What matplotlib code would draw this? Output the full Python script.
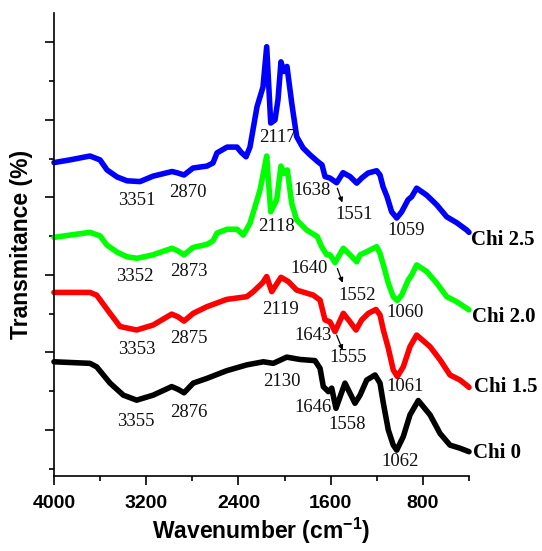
import matplotlib
matplotlib.use("Agg")
import matplotlib.pyplot as plt
from matplotlib.ticker import FixedLocator

plt.rcParams['mathtext.fontset'] = 'custom'
plt.rcParams['mathtext.rm'] = 'Liberation Sans:bold'
plt.rcParams['mathtext.it'] = 'Liberation Sans:bold'
plt.rcParams['mathtext.bf'] = 'Liberation Sans:bold'

# ---------------- data ----------------
wn_chi25 = [4000, 3861, 3688, 3601, 3540, 3453, 3367, 3254, 3141, 2976, 2924, 2872, 2794,
            2673, 2621, 2586, 2499, 2412, 2378, 2334, 2300, 2239, 2187, 2155, 2120, 2083,
            2057, 2031, 2005, 1979, 1938, 1895, 1840, 1779, 1710, 1675, 1649, 1606, 1548,
            1493, 1432, 1374, 1331, 1276, 1201, 1172, 1146, 1111, 1071, 1027, 984, 929,
            897, 854, 767, 680, 593, 507, 420, 400]
t_chi25 = [69.0, 69.7, 70.7, 69.7, 67.1, 65.3, 64.3, 64.1, 65.5, 66.7, 66.3, 65.8, 67.6,
           68.1, 68.9, 71.5, 73.0, 73.0, 71.7, 70.5, 73.0, 83.4, 88.5, 98.9, 79.2, 80.0,
           85.2, 95.0, 92.5, 93.8, 84.4, 75.7, 72.8, 71.0, 69.2, 68.4, 65.4, 65.0, 63.8,
           66.4, 65.4, 63.7, 65.0, 66.3, 66.9, 65.8, 62.8, 60.2, 56.3, 54.7, 56.3, 59.4,
           60.2, 62.4, 60.6, 58.1, 55.0, 53.5, 51.6, 51.0]

wn_chi20 = [4000, 3861, 3688, 3601, 3540, 3453, 3367, 3280, 3141, 2976, 2924, 2872, 2794,
            2673, 2621, 2586, 2499, 2412, 2358, 2300, 2213, 2187, 2155, 2120, 2068, 2031,
            2002, 1976, 1938, 1895, 1808, 1716, 1678, 1634, 1606, 1562, 1490, 1432, 1374,
            1345, 1287, 1201, 1172, 1143, 1100, 1057, 1022, 984, 927, 897, 854, 767, 680,
            593, 507, 420, 400]
t_chi20 = [49.7, 50.3, 51.0, 50.1, 47.7, 45.9, 44.7, 44.3, 45.2, 46.9, 46.2, 45.2, 47.1,
           47.9, 48.8, 50.8, 51.8, 51.8, 50.3, 53.3, 61.9, 65.8, 70.7, 56.3, 59.4, 68.1,
           66.2, 67.1, 58.5, 54.2, 51.6, 49.9, 47.3, 45.2, 45.2, 43.2, 46.9, 45.2, 43.4,
           45.2, 46.0, 47.3, 45.6, 42.6, 37.9, 34.4, 33.4, 34.8, 38.7, 40.0, 42.6, 40.9,
           37.9, 34.4, 33.1, 31.4, 31.0]

wn_chi15 = [4000, 3688, 3630, 3514, 3427, 3283, 3139, 2979, 2924, 2872, 2792, 2675, 2502,
            2328, 2271, 2190, 2155, 2111, 2031, 1967, 1895, 1751, 1692, 1649, 1606, 1562,
            1490, 1432, 1380, 1331, 1273, 1207, 1172, 1143, 1100, 1057, 1022, 970, 912,
            854, 738, 651, 565, 478, 406, 400]
t_chi15 = [35.5, 35.5, 34.8, 30.1, 26.7, 25.8, 27.1, 29.9, 29.2, 28.1, 30.1, 31.8, 33.7,
           34.4, 35.7, 38.0, 39.6, 35.7, 39.4, 38.3, 36.1, 34.8, 33.5, 28.4, 27.9, 25.4,
           30.1, 27.9, 25.8, 28.4, 30.1, 31.1, 29.7, 25.8, 21.1, 15.5, 13.8, 16.3, 21.5,
           24.5, 21.5, 18.1, 14.2, 12.9, 11.2, 11.0]

wn_chi0 = [4000, 3688, 3630, 3514, 3399, 3283, 3139, 2979, 2924, 2872, 2792, 2675, 2502,
           2328, 2184, 2098, 1981, 1866, 1736, 1692, 1664, 1620, 1591, 1554, 1476, 1389,
           1345, 1287, 1215, 1172, 1143, 1100, 1057, 1027, 970, 912, 840, 738, 651, 565,
           478, 400]
t_chi0 = [17.6, 17.2, 16.3, 12.1, 9.0, 7.7, 9.0, 11.2, 10.5, 9.6, 12.1, 13.3, 15.3,
          16.8, 17.6, 17.2, 18.8, 18.2, 17.9, 15.9, 11.2, 9.9, 10.8, 5.6, 12.1, 6.9,
          9.0, 12.9, 14.2, 12.1, 6.9, 0.0, -3.9, -5.2, -1.7, 3.9, 7.6, 3.9, -0.9, -3.9,
          -4.7, -5.6]

series_names = ['Chi 2.5', 'Chi 2.0', 'Chi 1.5', 'Chi 0']
series_colors = ['#0000FF', '#00FF00', '#FF0000', '#000000']

x_major = [4000, 3200, 2400, 1600, 800]
x_minor = [3600, 2800, 2000, 1200, 400]
x_ticklabels = ['4000', '3200', '2400', '1600', '800']

# peak labels: (text, wavenumber position, transmittance position)
peak_labels = [
    ('3351', 3280, 59.1), ('2870', 2838, 61.2), ('2117', 2065, 75.4),
    ('1638', 1762, 61.7), ('1551', 1398, 55.5), ('1059', 946, 51.6),
    ('3352', 3297, 39.7), ('2873', 2829, 40.8), ('2118', 2074, 52.6),
    ('1640', 1788, 41.8), ('1552', 1371, 34.8), ('1060', 955, 30.2),
    ('3353', 3280, 20.9), ('2875', 2829, 23.5), ('2119', 2031, 31.2),
    ('1643', 1753, 24.3), ('1555', 1450, 18.8), ('1061', 955, 11.1),
    ('3355', 3289, 2.1), ('2876', 2829, 4.6), ('2130', 2022, 12.6),
    ('1646', 1753, 5.9), ('1558', 1458, 1.3), ('1062', 998, -8.0),
]
arrows = [((1542, 62.4), (1499, 58.7)),
          ((1542, 41.7), (1496, 38.0)),
          ((1548, 24.5), (1496, 20.6))]
name_pos = [(383, 49.0), (374, 29.2), (357, 11.1), (365, -5.9)]

# ---------------- figure ----------------
fig = plt.figure(figsize=(5.42, 5.51), dpi=100)
ax = fig.add_axes([54 / 542, 75 / 551, 415 / 542, 463 / 551])

curves = [(wn_chi25, t_chi25), (wn_chi20, t_chi20), (wn_chi15, t_chi15), (wn_chi0, t_chi0)]
for (wn, tt), c in zip(curves, series_colors):
    ax.plot(wn, tt, color=c, lw=4.0, solid_joinstyle='round', solid_capstyle='round',
            clip_on=False)

for txt, xw, yt in peak_labels:
    ax.text(xw, yt, txt, ha='center', va='center', fontsize=13.5,
            family='Liberation Serif', color='#111111')

for (x0, y0), (x1, y1) in arrows:
    ax.annotate('', xy=(x1, y1), xytext=(x0, y0),
                arrowprops=dict(arrowstyle='-|>', lw=0.9, color='k',
                                mutation_scale=7, shrinkA=0, shrinkB=0))

for name, (xw, yt) in zip(series_names, name_pos):
    ax.text(xw, yt, name, ha='left', va='center', fontsize=15, fontweight='bold',
            family='Liberation Serif', clip_on=False)

ax.set_xlim(4000, 400)
ax.set_ylim(-11.87, 107.6)

ax.xaxis.set_major_locator(FixedLocator(x_major))
ax.xaxis.set_minor_locator(FixedLocator(x_minor))
ax.set_xticklabels(x_ticklabels)
ax.yaxis.set_major_locator(FixedLocator([0, 20, 40, 60, 80, 100]))
ax.yaxis.set_minor_locator(FixedLocator([-10, 10, 30, 50, 70, 90]))
ax.set_yticklabels([])

ax.tick_params(axis='both', which='major', direction='out', length=6.5, width=1.2)
ax.tick_params(axis='both', which='minor', direction='out', length=3.5, width=1.2)
ax.tick_params(axis='x', which='major', pad=7)

for lab in ax.get_xticklabels():
    lab.set_family('Liberation Sans')
    lab.set_fontweight('bold')
    lab.set_fontsize(14)

for s in ['top', 'right']:
    ax.spines[s].set_visible(False)
for s in ['left', 'bottom']:
    ax.spines[s].set_linewidth(1.2)

ax.set_xlabel('Wavenumber (cm$^{-1}$)', family='Liberation Sans', fontweight='bold',
              fontsize=16.5, labelpad=3)
ax.set_ylabel('Transmitance (%)', family='Liberation Sans', fontweight='bold',
              fontsize=16.5, labelpad=5)

fig.savefig('out.png', dpi=100)
